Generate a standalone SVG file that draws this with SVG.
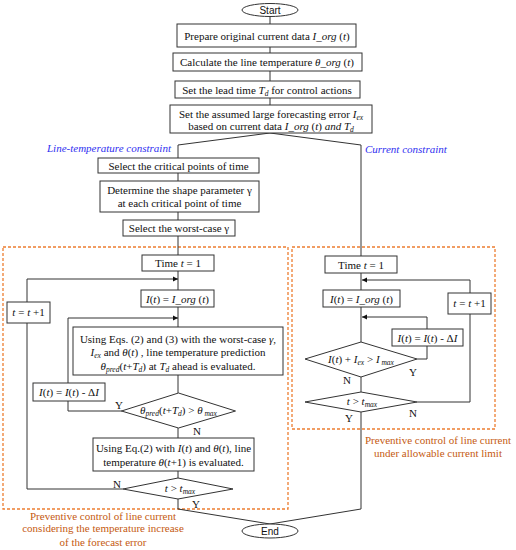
<svg xmlns="http://www.w3.org/2000/svg" width="516" height="550" viewBox="0 0 516 550">
<style>
.bx{fill:#fff;stroke:#333;stroke-width:1}
.t{font-family:"Liberation Serif","Times New Roman",serif;font-size:11px;fill:#111;text-anchor:middle}
.s{font-family:"Liberation Sans",Arial,sans-serif;font-size:10px;fill:#111;text-anchor:middle}
.i{font-style:italic}
.sub{font-size:7.5px;font-style:italic}
.ln{fill:none;stroke:#333;stroke-width:1}
.dash{fill:none;stroke:#ed7d31;stroke-width:1.3;stroke-dasharray:3,2}
.blue{font-family:"Liberation Serif","Times New Roman",serif;font-size:11px;font-style:italic;fill:#2f2ff0}
.or{font-family:"Liberation Serif","Times New Roman",serif;font-size:11px;fill:#c55a11;text-anchor:middle}
</style>
<defs>
<marker id="ar" markerWidth="6" markerHeight="6" refX="5" refY="3" orient="auto" markerUnits="userSpaceOnUse">
<path d="M0,0.5 L5,3 L0,5.5 Z" fill="#111"/>
</marker>
</defs>

<rect class="dash" x="3" y="247" width="285" height="262"/>
<rect class="dash" x="292" y="247" width="203" height="182"/>

<g id="connectors">
<path class="ln" d="M270,16.5 V24 M270,47 V53 M270,71 V81 M270,98 V105"/>
<path class="ln" d="M270,133 L178,145 V158 M270,133 L361,145 V256"/>
<path class="ln" d="M178,173 V181 M178,212 V220 M178,236 V255 M178,271 V290 M178,307 V327 M178,375 V393 M178,428 V438 M178,471 V478"/>
<path class="ln" d="M27,302 V279 H178" marker-end="url(#ar)"/>
<path class="ln" d="M68,383 V318 H178" marker-end="url(#ar)"/>
<path class="ln" d="M122,411 H68 V401"/>
<path class="ln" d="M123,489 H27 V323"/>
<path class="ln" d="M178,499 V509 L270,524"/>
<path class="ln" d="M361,273 V290 M361,307 V342 M361,377 V392"/>
<path class="ln" d="M470,293 V280 H362" marker-end="url(#ar)"/>
<path class="ln" d="M427,329 V317 H362" marker-end="url(#ar)"/>
<path class="ln" d="M417,359 H427 V346"/>
<path class="ln" d="M417,402 H470 V314"/>
<path class="ln" d="M361,412 V509 L270,524"/>
</g>

<g id="start">
<ellipse class="bx" cx="270" cy="10" rx="28" ry="6.5"/>
<text class="s" x="270" y="13.5">Start</text>
</g>
<g id="prepare">
<rect class="bx" x="177" y="24" width="179" height="23"/>
<text class="t" x="267" y="39.5">Prepare original current data <tspan class="i">I_org</tspan> (<tspan class="i">t</tspan>)</text>
</g>
<g id="calc">
<rect class="bx" x="173" y="53" width="189" height="18"/>
<text class="t" x="267" y="66">Calculate the line temperature <tspan class="i">θ_org</tspan> (<tspan class="i">t</tspan>)</text>
</g>
<g id="lead">
<rect class="bx" x="175" y="81" width="185" height="17"/>
<text class="t" x="267" y="93.5">Set the lead time <tspan class="i">T</tspan><tspan class="sub" dy="2">d</tspan><tspan dy="-2"> for control actions</tspan></text>
</g>
<g id="assumed">
<rect class="bx" x="170" y="105" width="202" height="28"/>
<text class="t" x="271" y="117.5">Set the assumed large forecasting error <tspan class="i">I</tspan><tspan class="sub" dy="2">ex</tspan></text>
<text class="t" x="271" y="129.5">based on current data <tspan class="i">I_org</tspan> (<tspan class="i">t</tspan>) <tspan class="i">and T</tspan><tspan class="sub" dy="2">d</tspan></text>
</g>

<text class="blue" x="47" y="152">Line-temperature constraint</text>
<text class="blue" x="365" y="153">Current constraint</text>

<g id="critical">
<rect class="bx" x="98" y="158" width="161" height="15"/>
<text class="t" x="178.5" y="169.5">Select the critical points of time</text>
</g>
<g id="shape">
<rect class="bx" x="100" y="181" width="159" height="31"/>
<text class="t" x="179.5" y="194">Determine the shape parameter γ</text>
<text class="t" x="179.5" y="207">at each critical point of time</text>
</g>
<g id="worst">
<rect class="bx" x="123" y="220" width="112" height="16"/>
<text class="t" x="179" y="231.5">Select the worst-case γ</text>
</g>

<g id="timeL">
<rect class="bx" x="142" y="255" width="72" height="16"/>
<text class="t" x="178" y="267">Time <tspan class="i">t</tspan> = 1</text>
</g>
<g id="incL">
<rect class="bx" x="7" y="302" width="43" height="21"/>
<text class="t" x="28.5" y="316"><tspan class="i">t</tspan> =  <tspan class="i">t</tspan> +1</text>
</g>
<g id="iorgL">
<rect class="bx" x="141" y="290" width="73" height="17"/>
<text class="t" x="177.5" y="302.5"><tspan class="i">I</tspan>(<tspan class="i">t</tspan>) = <tspan class="i">I_org</tspan> (<tspan class="i">t</tspan>)</text>
</g>
<g id="using3">
<rect class="bx" x="73" y="327" width="210" height="48"/>
<text class="t" x="178" y="342.5">Using Eqs. (2) and (3) with the worst-case <tspan class="i">γ</tspan>,</text>
<text class="t" x="178" y="355.5"><tspan class="i">I</tspan><tspan class="sub" dy="2">ex</tspan><tspan dy="-2"> and </tspan><tspan class="i">θ</tspan>(<tspan class="i">t</tspan>) , line temperature prediction</text>
<text class="t" x="178" y="369.5"><tspan class="i">θ</tspan><tspan class="sub" dy="2">pred</tspan><tspan dy="-2">(</tspan><tspan class="i">t</tspan>+<tspan class="i">T</tspan><tspan class="sub" dy="2">d</tspan><tspan dy="-2">) at </tspan><tspan class="i">T</tspan><tspan class="sub" dy="2">d</tspan><tspan dy="-2"> ahead is evaluated.</tspan></text>
</g>
<g id="decL">
<rect class="bx" x="33" y="383" width="72" height="18"/>
<text class="t" x="69" y="396"><tspan class="i">I</tspan>(<tspan class="i">t</tspan>) = <tspan class="i">I</tspan>(<tspan class="i">t</tspan>) - Δ<tspan class="i">I</tspan></text>
</g>
<g id="thetaDiamond">
<polygon class="bx" points="178.5,393 235.5,411 178.5,428 121.5,411"/>
<text class="t" x="178.5" y="414"><tspan class="i">θ</tspan><tspan class="sub" dy="2">pred</tspan><tspan dy="-2">(</tspan><tspan class="i">t</tspan>+<tspan class="i">T</tspan><tspan class="sub" dy="2">d</tspan><tspan dy="-2">) &gt; </tspan><tspan class="i">θ</tspan><tspan class="sub" dy="2"> max</tspan></text>
<text class="t" x="119" y="409">Y</text>
<text class="t" x="197" y="435">N</text>
</g>
<g id="using2">
<rect class="bx" x="93" y="438" width="161" height="33"/>
<text class="t" x="173.5" y="452">Using Eq.(2) with <tspan class="i">I</tspan>(<tspan class="i">t</tspan>) and <tspan class="i">θ</tspan>(<tspan class="i">t</tspan>), line</text>
<text class="t" x="173.5" y="466">temperature <tspan class="i">θ</tspan>(<tspan class="i">t</tspan>+1) is evaluated.</text>
</g>
<g id="tmaxL">
<polygon class="bx" points="178,478 233,489 178,499 123,489"/>
<text class="t" x="180" y="492"><tspan class="i">t</tspan> &gt; <tspan class="i">t</tspan><tspan class="sub" dy="2">max</tspan></text>
<text class="t" x="117" y="488">N</text>
<text class="t" x="196" y="508">Y</text>
</g>

<g id="timeR">
<rect class="bx" x="325" y="256" width="72" height="17"/>
<text class="t" x="361" y="268.5">Time <tspan class="i">t</tspan> = 1</text>
</g>
<g id="iorgR">
<rect class="bx" x="323" y="290" width="77" height="17"/>
<text class="t" x="361.5" y="302.5"><tspan class="i">I</tspan>(<tspan class="i">t</tspan>) = <tspan class="i">I_org</tspan> (<tspan class="i">t</tspan>)</text>
</g>
<g id="incR">
<rect class="bx" x="448" y="293" width="43" height="21"/>
<text class="t" x="469.5" y="307"><tspan class="i">t</tspan> =  <tspan class="i">t</tspan> +1</text>
</g>
<g id="decR">
<rect class="bx" x="392" y="329" width="71" height="17"/>
<text class="t" x="427.5" y="341.5"><tspan class="i">I</tspan>(<tspan class="i">t</tspan>) = <tspan class="i">I</tspan>(<tspan class="i">t</tspan>) - Δ<tspan class="i">I</tspan></text>
</g>
<g id="currDiamond">
<polygon class="bx" points="361,342 417,359 361,377 305,359"/>
<text class="t" x="361" y="362.5"><tspan class="i">I</tspan>(<tspan class="i">t</tspan>) + <tspan class="i">I</tspan><tspan class="sub" dy="2">ex</tspan><tspan dy="-2"> &gt; </tspan><tspan class="i">I</tspan><tspan class="sub" dy="2"> max</tspan></text>
<text class="t" x="413" y="376">Y</text>
<text class="t" x="347" y="384">N</text>
</g>
<g id="tmaxR">
<polygon class="bx" points="361,392 417,402 361,412 305,402"/>
<text class="t" x="362" y="405"><tspan class="i">t</tspan> &gt; <tspan class="i">t</tspan><tspan class="sub" dy="2">max</tspan></text>
<text class="t" x="413" y="417">N</text>
<text class="t" x="349" y="422">Y</text>
</g>

<g id="end">
<ellipse class="bx" cx="270" cy="531" rx="28" ry="7"/>
<text class="s" x="270" y="534.5">End</text>
</g>

<text class="or" x="103" y="520">Preventive control of line current</text>
<text class="or" x="103" y="532">considering the temperature increase</text>
<text class="or" x="103" y="546">of  the forecast error</text>
<text class="or" x="438" y="444">Preventive control of line current</text>
<text class="or" x="438" y="457">under allowable current limit</text>
</svg>
